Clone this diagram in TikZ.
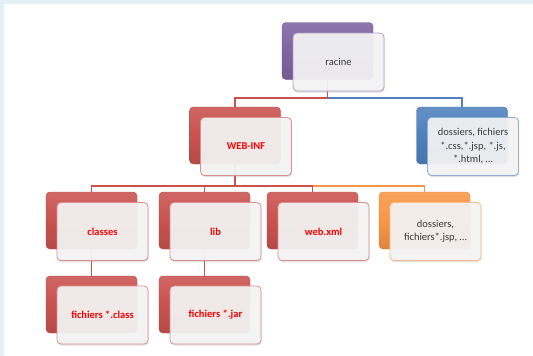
\documentclass[tikz,border=0pt]{standalone}
\usepackage{fontspec}
\setmainfont{Carlito}
\usetikzlibrary{shadows,calc}

\definecolor{accRed}{HTML}{C9524F}
\definecolor{accBlue}{HTML}{4F81BD}
\definecolor{accPurple}{HTML}{8064A2}
\definecolor{accOrange}{HTML}{F79646}
\definecolor{frameblue}{HTML}{E4F0F7}
\definecolor{txt}{HTML}{3A3A3A}

\pgfdeclarelayer{bg}
\pgfsetlayers{bg,main}

\tikzset{
  back/.style={rounded corners=4pt, minimum width=91pt, minimum height=57pt,
    inner sep=0pt, draw=#1!85!black, line width=0.4pt,
    top color=#1!88!white, bottom color=#1!90!black, middle color=#1},
  front/.style={rounded corners=4pt, minimum width=91pt, minimum height=58pt,
    inner sep=2pt, fill=white!96!black, fill opacity=0.92, text opacity=1,
    draw=#1!65!white, line width=0.8pt,
    drop shadow={shadow xshift=0.6pt, shadow yshift=-1.5pt, opacity=0.25},
    font=\fontsize{10.5}{13.5}\selectfont, text=txt, align=center},
  redtext/.style={text=red, font=\fontsize{10.5}{12.5}\selectfont\bfseries},
  link/.style={draw=#1, line width=1.8pt},
}

\begin{document}
\begin{tikzpicture}[x=1pt,y=-1pt]
  \useasboundingbox (0,0) rectangle (533,356);

  % back plates
  \node[back=accPurple] (racineB) at (327.5,51) {};
  \node[back=accRed]    (webinfB) at (235,135.5) {};
  \node[back=accBlue]   (blueB)   at (462,135.5) {};
  \node[back=accRed]    (classesB) at (91.5,220.5) {};
  \node[back=accRed]    (libB)    at (204.5,220.5) {};
  \node[back=accRed]    (webxmlB) at (312.5,220.5) {};
  \node[back=accOrange] (orangeB) at (424.5,220.5) {};
  \node[back=accRed]    (fclassB) at (91.5,304.5) {};
  \node[back=accRed]    (fjarB)   at (204.5,304.5) {};

  % front cards
  \node[front=accPurple] (racine) at ($(racineB)+(11,11)$) {racine};
  \node[front=accRed, redtext] (webinf) at ($(webinfB)+(11,11)$) {WEB-INF};
  \node[front=accBlue] (blue) at ($(blueB)+(11,11)$)
    {dossiers, fichiers\\ *.css,*.jsp, *.js,\\ *.html, …};
  \node[front=accRed, redtext] (classes) at ($(classesB)+(11,11)$) {classes};
  \node[front=accRed, redtext] (lib) at ($(libB)+(11,11)$) {lib};
  \node[front=accRed, redtext] (webxml) at ($(webxmlB)+(11,11)$) {web.xml};
  \node[front=accOrange] (orange) at ($(orangeB)+(11,11)$)
    {dossiers,\\ fichiers*.jsp, …};
  \node[front=accRed, redtext] (fclass) at ($(fclassB)+(11,10.5)$) {fichiers *.class};
  \node[front=accRed, redtext] (fjar) at ($(fjarB)+(11,10.5)$) {fichiers *.jar};

  \begin{pgfonlayer}{bg}
    \fill[white] (0,0) rectangle (533,356);
    \fill[frameblue] (0,0) rectangle (533,4);
    \fill[frameblue] (0,0) rectangle (4,356);

    \coordinate (busA) at (0,98);
    \coordinate (busB) at (0,186);

    \draw[link=accRed] (racineB.south) -- (racineB.south |- busA) -| (webinfB.north);
    \draw[link=accBlue] (racineB.south |- busA) -| (blueB.north);

    \draw[link=accOrange] (webinfB.south |- busB) -| (orangeB.north);
    \draw[link=accRed] (webinfB.south) -- (webinfB.south |- busB) -| (classesB.north);
    \draw[link=accRed] (webinfB.south |- busB) -| (libB.north);
    \draw[link=accRed] (webinfB.south |- busB) -| (webxmlB.north);

    \draw[link=accRed] (classesB.south) -- (fclassB.north);
    \draw[link=accRed] (libB.south) -- (fjarB.north);
  \end{pgfonlayer}
\end{tikzpicture}
\end{document}
